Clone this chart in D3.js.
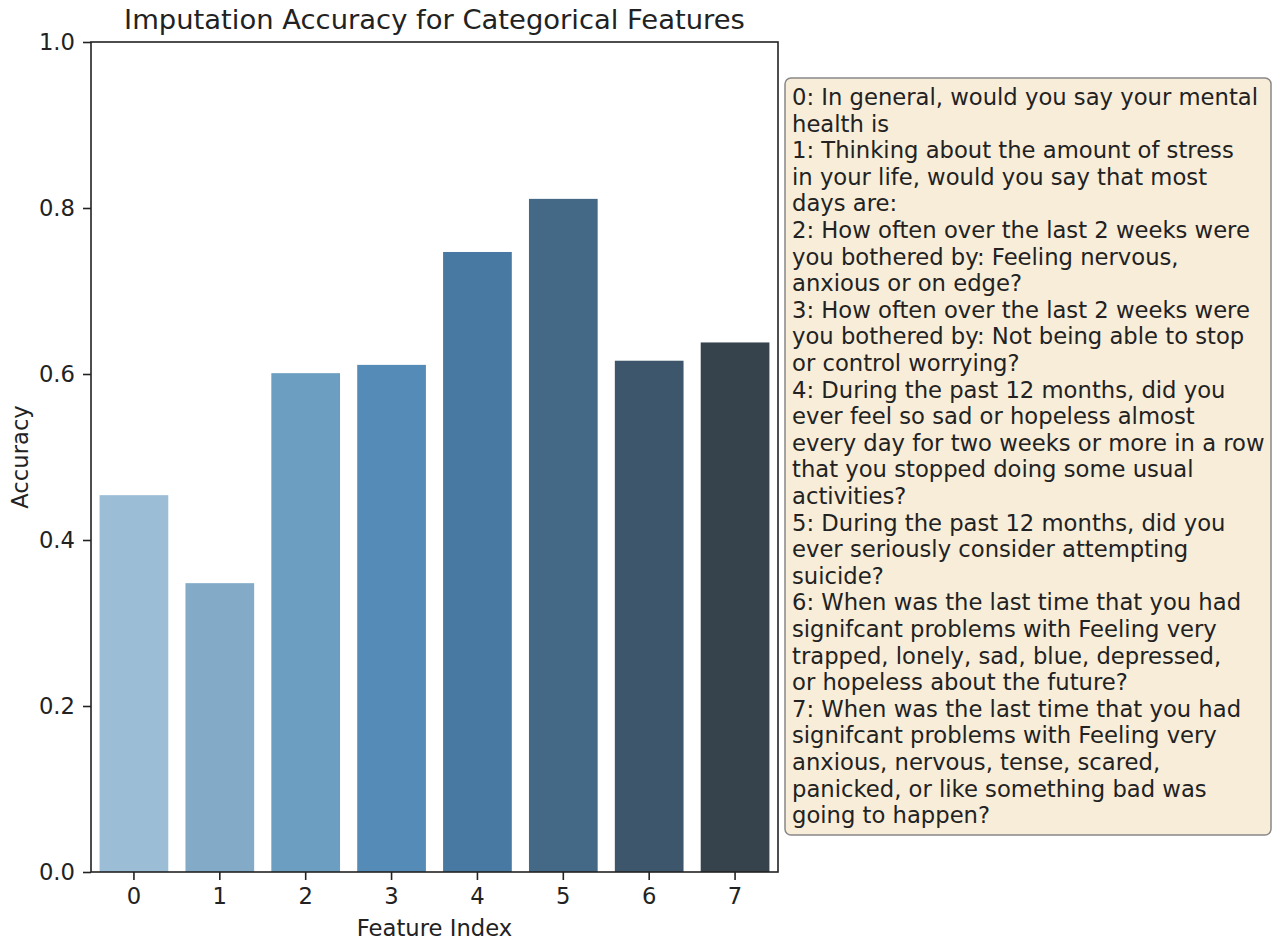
<!DOCTYPE html>
<html>
<head>
<meta charset="utf-8">
<script src="https://cdn.jsdelivr.net/npm/d3@7"></script>
<style>
  body { margin: 0; background: #fff; }
  svg { font-family: "DejaVu Sans", sans-serif; }
</style>
</head>
<body>
<svg id="chart" width="1280" height="941"></svg>
<script>
// data
var features = ["0", "1", "2", "3", "4", "5", "6", "7"];
var accuracy = [0.454, 0.348, 0.601, 0.611, 0.747, 0.811, 0.616, 0.638];
var barColors = ["#9bbdd6", "#83abc8", "#6b9ec0", "#548cb7", "#4779a2", "#436987", "#3d566b", "#37434c"];
var yTicks = [0.0, 0.2, 0.4, 0.6, 0.8, 1.0];
var noteLines = [
  "0: In general, would you say your mental",
  "health is",
  "1: Thinking about the amount of stress",
  "in your life, would you say that most",
  "days are:",
  "2: How often over the last 2 weeks were",
  "you bothered by: Feeling nervous,",
  "anxious or on edge?",
  "3: How often over the last 2 weeks were",
  "you bothered by: Not being able to stop",
  "or control worrying?",
  "4: During the past 12 months, did you",
  "ever feel so sad or hopeless almost",
  "every day for two weeks or more in a row",
  "that you stopped doing some usual",
  "activities?",
  "5: During the past 12 months, did you",
  "ever seriously consider attempting",
  "suicide?",
  "6: When was the last time that you had",
  "signifcant problems with Feeling very",
  "trapped, lonely, sad, blue, depressed,",
  "or hopeless about the future?",
  "7: When was the last time that you had",
  "signifcant problems with Feeling very",
  "anxious, nervous, tense, scared,",
  "panicked, or like something bad was",
  "going to happen?"
];

var margin = {top: 42, left: 91},
    width = 687,
    height = 830;

var svg = d3.select("#chart");
var g = svg.append("g")
    .attr("transform", "translate(" + margin.left + "," + margin.top + ")");

var x = d3.scaleBand()
    .domain(features)
    .range([0, width])
    .paddingInner(0.2)
    .paddingOuter(0.1);

var y = d3.scaleLinear()
    .domain([0, 1])
    .range([height, 0]);

// bars
g.selectAll(".bar")
    .data(accuracy)
    .enter()
    .append("rect")
    .attr("class", "bar")
    .attr("x", function(d, i) { return x(features[i]); })
    .attr("y", function(d) { return y(d); })
    .attr("width", x.bandwidth())
    .attr("height", function(d) { return height - y(d); })
    .attr("fill", function(d, i) { return barColors[i]; });

// axes
var xAxis = g.append("g")
    .attr("transform", "translate(0," + height + ")")
    .call(d3.axisBottom(x).tickSize(8).tickPadding(8));

var yAxis = g.append("g")
    .call(d3.axisLeft(y).tickValues(yTicks).tickFormat(d3.format(".1f")).tickSize(8).tickPadding(8));

[xAxis, yAxis].forEach(function(a) {
  a.select(".domain").remove();
  a.selectAll("line").attr("stroke", "#222").attr("stroke-width", 1.6);
  a.selectAll("text").attr("font-size", "22.7px").attr("fill", "#222")
      .attr("font-family", "DejaVu Sans, sans-serif");
});

// frame
g.append("rect")
    .attr("width", width)
    .attr("height", height)
    .attr("fill", "none")
    .attr("stroke", "#222")
    .attr("stroke-width", 1.6);

// labels
svg.append("text")
    .attr("x", margin.left + width / 2)
    .attr("y", 29)
    .attr("text-anchor", "middle")
    .attr("font-size", "27.4px")
    .attr("fill", "#222")
    .text("Imputation Accuracy for Categorical Features");

svg.append("text")
    .attr("x", margin.left + width / 2)
    .attr("y", 936)
    .attr("text-anchor", "middle")
    .attr("font-size", "22.7px")
    .attr("fill", "#222")
    .text("Feature Index");

svg.append("text")
    .attr("transform", "translate(28," + (margin.top + height / 2) + ") rotate(-90)")
    .attr("text-anchor", "middle")
    .attr("font-size", "22.7px")
    .attr("fill", "#222")
    .text("Accuracy");

// side note box
var note = svg.append("g").attr("transform", "translate(785,78)");
note.append("rect")
    .attr("width", 486)
    .attr("height", 757)
    .attr("rx", 6)
    .attr("fill", "#f8edd9")
    .attr("stroke", "#888")
    .attr("stroke-width", 1.5);

note.append("text")
    .attr("font-size", "22.7px")
    .attr("fill", "#222")
    .selectAll("tspan")
    .data(noteLines)
    .enter()
    .append("tspan")
    .attr("x", 7)
    .attr("y", function(d, i) { return 27 + i * 26.6; })
    .text(function(d) { return d; });
</script>
</body>
</html>
